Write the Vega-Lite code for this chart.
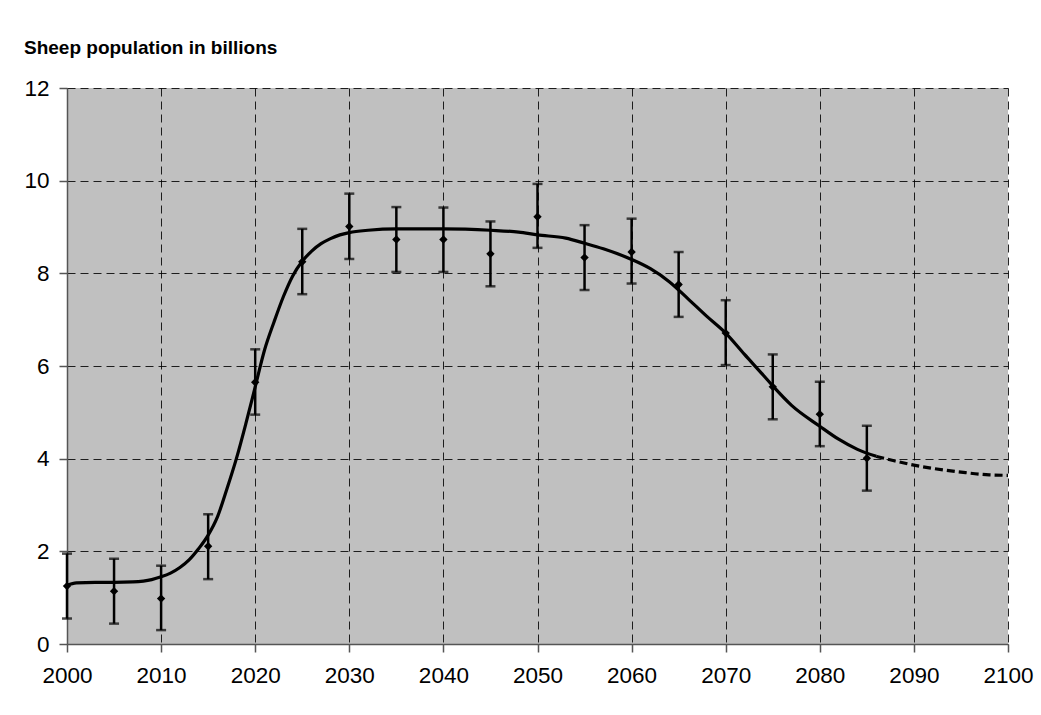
{
  "$schema": "https://vega.github.io/schema/vega-lite/v6.json",
  "width": 941,
  "height": 556,
  "autosize": {"type": "none"},
  "padding": {"left": 67, "top": 88, "right": 33, "bottom": 71},
  "background": "white",
  "config": {
    "font": "Liberation Sans",
    "view": {"fill": "#C0C0C0", "stroke": null},
    "axis": {
      "labelFont": "Liberation Sans",
      "labelFontSize": 22.5,
      "labelColor": "black",
      "domainColor": "#555555",
      "domainWidth": 1.5,
      "tickColor": "#555555",
      "tickWidth": 1.5,
      "tickSize": 8,
      "gridColor": "black",
      "gridOpacity": 0.85,
      "gridDash": [8, 5],
      "gridWidth": 1,
      "title": null
    }
  },
  "title": {
    "text": "Sheep population in billions",
    "anchor": "start",
    "frame": "group",
    "font": "Liberation Sans",
    "fontSize": 19,
    "fontWeight": "bold",
    "color": "black",
    "dx": -43,
    "offset": 4,
    "baseline": "alphabetic"
  },
  "datasets": {
    "obs": [
      {"year": 2000, "value": 1.25, "lo": 0.55, "hi": 1.95},
      {"year": 2005, "value": 1.14, "lo": 0.44, "hi": 1.84},
      {"year": 2010, "value": 0.98, "lo": 0.3, "hi": 1.69},
      {"year": 2015, "value": 2.11, "lo": 1.4, "hi": 2.8},
      {"year": 2020, "value": 5.65, "lo": 4.95, "hi": 6.36},
      {"year": 2025, "value": 8.25, "lo": 7.55, "hi": 8.96},
      {"year": 2030, "value": 9.01, "lo": 8.31, "hi": 9.72},
      {"year": 2035, "value": 8.73, "lo": 8.03, "hi": 9.43},
      {"year": 2040, "value": 8.73, "lo": 8.03, "hi": 9.42},
      {"year": 2045, "value": 8.42, "lo": 7.72, "hi": 9.12},
      {"year": 2050, "value": 9.22, "lo": 8.55, "hi": 9.93},
      {"year": 2055, "value": 8.34, "lo": 7.64, "hi": 9.04},
      {"year": 2060, "value": 8.46, "lo": 7.78, "hi": 9.18},
      {"year": 2065, "value": 7.76, "lo": 7.06, "hi": 8.46},
      {"year": 2070, "value": 6.71, "lo": 6.02, "hi": 7.42},
      {"year": 2075, "value": 5.55, "lo": 4.85, "hi": 6.25},
      {"year": 2080, "value": 4.96, "lo": 4.27, "hi": 5.66},
      {"year": 2085, "value": 4.01, "lo": 3.31, "hi": 4.71}
    ],
    "solid": [
      {"year": 2000, "value": 1.27},
      {"year": 2001, "value": 1.32},
      {"year": 2003, "value": 1.33},
      {"year": 2005, "value": 1.33},
      {"year": 2007, "value": 1.34},
      {"year": 2009, "value": 1.39},
      {"year": 2010, "value": 1.45},
      {"year": 2011, "value": 1.53},
      {"year": 2012, "value": 1.65},
      {"year": 2013, "value": 1.82},
      {"year": 2014, "value": 2.06},
      {"year": 2015, "value": 2.35},
      {"year": 2016, "value": 2.75},
      {"year": 2017, "value": 3.35},
      {"year": 2018, "value": 4.0},
      {"year": 2019, "value": 4.75},
      {"year": 2020, "value": 5.55},
      {"year": 2021, "value": 6.35},
      {"year": 2022, "value": 6.95},
      {"year": 2023, "value": 7.5},
      {"year": 2024, "value": 7.95},
      {"year": 2025, "value": 8.26},
      {"year": 2026, "value": 8.48},
      {"year": 2027, "value": 8.64},
      {"year": 2028, "value": 8.75},
      {"year": 2029, "value": 8.83},
      {"year": 2030, "value": 8.88},
      {"year": 2032, "value": 8.93},
      {"year": 2035, "value": 8.96},
      {"year": 2040, "value": 8.96},
      {"year": 2045, "value": 8.93},
      {"year": 2048, "value": 8.89},
      {"year": 2050, "value": 8.83},
      {"year": 2053, "value": 8.76},
      {"year": 2055, "value": 8.65},
      {"year": 2057, "value": 8.53},
      {"year": 2060, "value": 8.3},
      {"year": 2062, "value": 8.1},
      {"year": 2064, "value": 7.82},
      {"year": 2066, "value": 7.45},
      {"year": 2068, "value": 7.07},
      {"year": 2070, "value": 6.71},
      {"year": 2072, "value": 6.25},
      {"year": 2074, "value": 5.8},
      {"year": 2075, "value": 5.57},
      {"year": 2077, "value": 5.15},
      {"year": 2080, "value": 4.7},
      {"year": 2082, "value": 4.42},
      {"year": 2084, "value": 4.2},
      {"year": 2086, "value": 4.05}
    ],
    "dashed": [
      {"year": 2086, "value": 4.05},
      {"year": 2088, "value": 3.95},
      {"year": 2090, "value": 3.86},
      {"year": 2092, "value": 3.79},
      {"year": 2095, "value": 3.71},
      {"year": 2098, "value": 3.65},
      {"year": 2100, "value": 3.64}
    ]
  },
  "encoding": {
    "x": {
      "field": "year",
      "type": "quantitative",
      "scale": {"domain": [2000, 2100], "nice": false, "zero": false},
      "axis": {"values": [2000, 2010, 2020, 2030, 2040, 2050, 2060, 2070, 2080, 2090, 2100], "format": "d", "labelPadding": 12, "labelFlush": false}
    }
  },
  "layer": [
    {
      "data": {"name": "solid"},
      "mark": {"type": "line", "color": "black", "strokeWidth": 3.2, "interpolate": "monotone"},
      "encoding": {
        "y": {
          "field": "value",
          "type": "quantitative",
          "scale": {"domain": [0, 12], "nice": false},
          "axis": {"values": [0, 2, 4, 6, 8, 10, 12], "labelPadding": 10}
        }
      }
    },
    {
      "data": {"name": "dashed"},
      "mark": {"type": "line", "color": "black", "strokeWidth": 3.2, "strokeDash": [8, 4], "interpolate": "monotone"},
      "encoding": {"y": {"field": "value", "type": "quantitative"}}
    },
    {
      "data": {"name": "obs"},
      "mark": {"type": "rule", "color": "black", "strokeWidth": 2.5},
      "encoding": {"y": {"field": "lo", "type": "quantitative"}, "y2": {"field": "hi"}}
    },
    {
      "data": {"name": "obs"},
      "mark": {"type": "tick", "color": "black", "orient": "horizontal", "size": 10, "thickness": 2.5},
      "encoding": {"y": {"field": "lo", "type": "quantitative"}}
    },
    {
      "data": {"name": "obs"},
      "mark": {"type": "tick", "color": "black", "orient": "horizontal", "size": 10, "thickness": 2.5},
      "encoding": {"y": {"field": "hi", "type": "quantitative"}}
    },
    {
      "data": {"name": "obs"},
      "mark": {"type": "point", "shape": "diamond", "filled": true, "color": "black", "size": 70, "opacity": 1},
      "encoding": {"y": {"field": "value", "type": "quantitative"}}
    }
  ]
}
